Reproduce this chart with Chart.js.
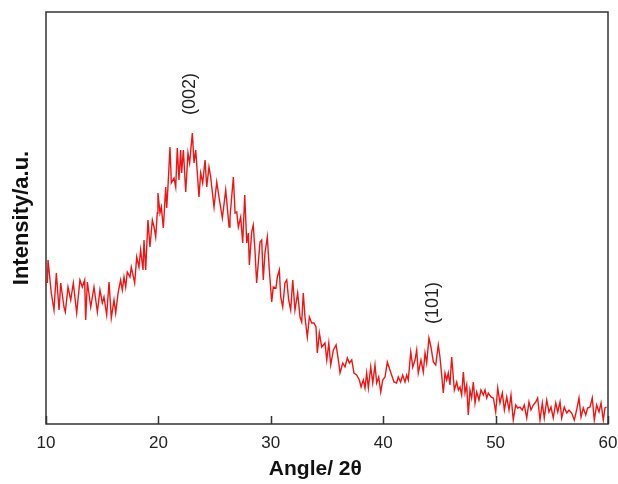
<!DOCTYPE html>
<html>
<head>
<meta charset="utf-8">
<script src="https://cdn.jsdelivr.net/npm/chart.js@4/dist/chart.umd.min.js"></script>
<style>
  html, body { margin: 0; padding: 0; background: #fff; }
  #chart { display: block; }
</style>
</head>
<body>
<canvas id="chart" width="618" height="484"></canvas>
<script>
// XRD pattern (arbitrary intensity units)
const angles = [
  10.12, 10.18, 10.47, 10.71, 10.92, 11.16, 11.31, 11.60, 11.72, 11.96, 12.20, 12.43, 12.73, 13.02, 13.23, 13.44, 13.53, 13.68, 13.98, 14.27,
  14.57, 14.80, 15.01, 15.16, 15.40, 15.61, 15.81, 16.05, 16.20, 16.41, 16.64, 16.79, 16.94, 17.09, 17.23, 17.47, 17.59, 17.89, 18.07, 18.27,
  18.42, 18.63, 18.72, 18.87, 19.07, 19.25, 19.46, 19.61, 19.76, 19.90, 19.96, 20.14, 20.26, 20.44, 20.65, 20.74, 20.85, 21.03, 21.15, 21.39,
  21.54, 21.68, 21.83, 21.98, 22.07, 22.22, 22.43, 22.63, 22.78, 23.02, 23.17, 23.32, 23.61, 23.76, 23.94, 24.15, 24.30, 24.50, 24.65, 24.95,
  25.19, 25.39, 25.69, 25.99, 26.29, 26.37, 26.67, 26.82, 26.97, 27.11, 27.32, 27.50, 27.68, 27.86, 28.00, 28.09, 28.30, 28.44, 28.59, 28.74,
  29.04, 29.19, 29.33, 29.48, 29.69, 29.87, 30.08, 30.22, 30.46, 30.58, 30.76, 30.88, 31.06, 31.26, 31.42, 31.59, 31.77, 31.95, 32.15, 32.39,
  32.60, 32.75, 32.89, 33.04, 33.25, 33.43, 33.64, 33.84, 34.02, 34.14, 34.32, 34.53, 34.82, 34.98, 35.16, 35.33, 35.57, 35.81, 36.01, 36.16,
  36.40, 36.60, 36.81, 36.99, 37.20, 37.40, 37.64, 37.88, 38.03, 38.23, 38.38, 38.53, 38.68, 38.89, 39.07, 39.27, 39.42, 39.60, 39.78, 39.96,
  40.16, 40.37, 40.54, 40.75, 40.96, 41.19, 41.34, 41.55, 41.73, 41.94, 42.09, 42.23, 42.45, 42.63, 42.83, 42.98, 43.12, 43.36, 43.57, 43.72,
  43.87, 44.07, 44.25, 44.46, 44.67, 44.90, 45.05, 45.20, 45.35, 45.50, 45.65, 45.79, 45.94, 46.09, 46.33, 46.54, 46.69, 46.83, 46.98, 47.13,
  47.28, 47.43, 47.57, 47.72, 47.87, 48.02, 48.17, 48.32, 48.52, 48.70, 48.91, 49.06, 49.21, 49.35, 49.59, 49.80, 50.01, 50.19, 50.39, 50.60,
  50.78, 50.99, 51.19, 51.37, 51.57, 51.79, 51.96, 52.17, 52.37, 52.55, 52.77, 52.97, 53.15, 53.35, 53.57, 53.74, 53.95, 54.16, 54.33, 54.55,
  54.75, 54.93, 55.13, 55.35, 55.53, 55.73, 55.88, 56.11, 56.33, 56.53, 56.77, 57.00, 57.21, 57.42, 57.60, 57.80, 58.02, 58.19, 58.40, 58.60,
  58.78, 58.99, 59.20, 59.38, 59.58, 59.73, 59.88
];
const intensity = [
  141, 164, 131, 114, 151, 114, 141, 117, 112, 137, 124, 141, 111, 144, 137, 144, 104, 142, 117, 137,
  112, 134, 121, 127, 109, 142, 106, 124, 111, 131, 144, 134, 147, 137, 152, 147, 157, 141, 167, 157,
  174, 154, 184, 154, 204, 177, 204, 197, 187, 211, 231, 211, 217, 196, 237, 216, 237, 277, 241, 246,
  237, 276, 244, 274, 251, 274, 232, 271, 261, 291, 261, 274, 227, 251, 241, 264, 237, 257, 247, 217,
  242, 227, 206, 234, 197, 207, 247, 211, 212, 197, 207, 181, 229, 181, 191, 159, 192, 199, 174, 141,
  182, 184, 144, 171, 187, 154, 122, 137, 136, 147, 154, 127, 117, 141, 144, 124, 114, 144, 114, 131,
  107, 102, 131, 107, 87, 107, 101, 101, 97, 71, 91, 77, 81, 64, 81, 59, 74, 79, 64, 51,
  61, 57, 66, 61, 64, 51, 49, 44, 37, 44, 36, 51, 36, 57, 41, 59, 41, 47, 32, 44,
  47, 62, 56, 49, 42, 41, 47, 42, 49, 42, 49, 44, 72, 57, 64, 74, 51, 64, 52, 71,
  61, 86, 77, 62, 59, 79, 67, 49, 31, 51, 44, 51, 39, 67, 34, 42, 34, 37, 29, 52,
  31, 39, 9, 34, 26, 42, 21, 32, 24, 34, 29, 34, 26, 31, 27, 26, 12, 36, 21, 31,
  14, 27, 14, 29, 4, 19, 16, 17, 14, 19, 6, 22, 14, 19, 22, 26, 4, 21, 6, 24,
  12, 17, 6, 21, 12, 22, 6, 17, 11, 14, 11, 4, 14, 26, 7, 16, 9, 16, 17, 26,
  4, 19, 12, 21, 4, 16, 17
];

// reflection labels and where they sit (angle, intensity)
const peakLabels = ['(002)', '(101)'];
const peakAngles = [22.8, 44.4];
const peakLevels = [330, 121];

const xTicks = [10, 20, 30, 40, 50, 60];

const frame = {
  id: 'frame',
  afterDraw(chart) {
    const { ctx, chartArea: a, scales: { x, y } } = chart;
    ctx.save();
    ctx.strokeStyle = '#333';
    ctx.lineWidth = 1.5;
    ctx.strokeRect(a.left, a.top, a.right - a.left, a.bottom - a.top);
    // inward tick marks on the bottom axis
    ctx.beginPath();
    xTicks.forEach(v => {
      const px = Math.round(x.getPixelForValue(v)) + 0.5;
      ctx.moveTo(px, a.bottom);
      ctx.lineTo(px, a.bottom - 8);
    });
    ctx.stroke();
    // peak labels, rotated
    ctx.fillStyle = '#222';
    ctx.font = '18px "Liberation Sans", Arial, sans-serif';
    ctx.textAlign = 'center';
    ctx.textBaseline = 'middle';
    peakLabels.forEach((t, i) => {
      ctx.save();
      ctx.translate(x.getPixelForValue(peakAngles[i]), y.getPixelForValue(peakLevels[i]));
      ctx.rotate(-Math.PI / 2);
      ctx.fillText(t, 0, 0);
      ctx.restore();
    });
    ctx.restore();
  }
};

new Chart(document.getElementById('chart'), {
  type: 'line',
  data: {
    labels: angles,
    datasets: [{
      data: angles.map((a, i) => ({ x: a, y: intensity[i] })),
      borderColor: 'rgb(240,20,20)',
      borderWidth: 1.4,
      pointRadius: 0,
      tension: 0,
      fill: false
    }]
  },
  options: {
    responsive: false,
    animation: false,
    layout: { padding: { top: 12, right: 10, left: 0, bottom: 0 } },
    plugins: { legend: { display: false }, tooltip: { enabled: false } },
    scales: {
      x: {
        type: 'linear',
        min: 10,
        max: 60,
        afterFit: s => { s.height = 60; s.paddingRight = 0; s.paddingLeft = 0; },
        afterBuildTicks: s => { s.ticks = xTicks.map(v => ({ value: v })); },
        grid: { display: false, drawTicks: false },
        border: { display: false },
        ticks: {
          padding: 9,
          color: '#222',
          font: { family: '"Liberation Sans", Arial, sans-serif', size: 17 }
        },
        title: {
          display: true,
          text: 'Angle/ 2θ\u00a0\u00a0\u00a0\u00a0',
          color: '#111',
          padding: { top: 0, bottom: 2 },
          font: { family: '"Liberation Sans", Arial, sans-serif', size: 21, weight: 'bold' }
        }
      },
      y: {
        min: 0,
        max: 412,
        afterFit: s => { s.width = 46; },
        grid: { display: false, drawTicks: false },
        border: { display: false },
        ticks: { display: false },
        title: {
          display: true,
          text: 'Intensity/a.u.',
          color: '#111',
          padding: { top: 9, bottom: 0 },
          font: { family: '"Liberation Sans", Arial, sans-serif', size: 22, weight: 'bold' }
        }
      }
    }
  },
  plugins: [frame]
});
</script>
</body>
</html>
